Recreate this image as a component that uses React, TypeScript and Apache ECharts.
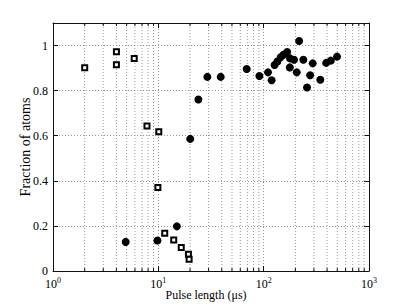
import React, { useEffect, useRef } from 'react';
import * as echarts from 'echarts';

// Open squares
const squareX = [2, 4, 4, 5.9, 7.8, 10.1, 9.9, 11.5, 14, 16.5, 19.3, 19.6];
const squareY = [0.902, 0.973, 0.915, 0.943, 0.643, 0.618, 0.37, 0.167, 0.138, 0.104, 0.074, 0.052];

// Filled circles
const circleX = [4.9, 9.8, 15, 20.1, 24, 29.2, 39.1, 69, 91, 110, 119, 127, 135, 145, 154, 167, 178, 177, 194, 206, 217, 238, 258, 276, 292, 345, 392, 434, 497];
const circleY = [0.129, 0.135, 0.198, 0.586, 0.761, 0.861, 0.861, 0.896, 0.865, 0.881, 0.846, 0.914, 0.929, 0.948, 0.959, 0.971, 0.943, 0.903, 0.937, 0.881, 1.02, 0.937, 0.814, 0.868, 0.921, 0.848, 0.923, 0.933, 0.951];

// Axis ranges and minor log ticks
const X_MIN = 1;
const X_MAX = 1000;
const Y_MIN = 0;
const Y_MAX = 1.1;
const Y_STEP = 0.2;
const minorX = [2, 3, 4, 5, 6, 7, 8, 9, 20, 30, 40, 50, 60, 70, 80, 90, 200, 300, 400, 500, 600, 700, 800, 900];

const FONT = 'Liberation Serif';
const GRID_COLOR = '#9a9a9a';
const AXIS_COLOR = '#111';

export default function App() {
  const ref = useRef<HTMLDivElement>(null);

  useEffect(() => {
    if (!ref.current) return;
    const chart = echarts.init(ref.current, undefined, { renderer: 'svg' });

    const dotted = { color: GRID_COLOR, width: 1, type: [1, 2] as number[] };

    const option: any = {
      animation: false,
      backgroundColor: '#fff',
      textStyle: { fontFamily: FONT },
      grid: { left: 53, right: 38, top: 23, bottom: 37, containLabel: false },
      xAxis: [
        {
          type: 'log',
          logBase: 10,
          min: X_MIN,
          max: X_MAX,
          position: 'bottom',
          name: 'Pulse length (μs)',
          nameLocation: 'middle',
          nameGap: 18,
          nameMoveOverlap: false,
          nameTextStyle: { fontFamily: FONT, fontSize: 12, color: '#000', padding: [0, 10, 0, 0] },
          axisLine: { show: true, onZero: false, lineStyle: { color: AXIS_COLOR, width: 1 } },
          axisTick: { show: true, inside: true, length: 5, lineStyle: { color: AXIS_COLOR } },
          splitLine: { show: true, lineStyle: dotted },
          axisLabel: {
            margin: 5,
            color: '#000',
            formatter: (v: number) => `{b|10}{s|${Math.round(Math.log10(v))}}`,
            rich: {
              b: { fontFamily: FONT, fontSize: 12, lineHeight: 16, color: '#000' },
              s: { fontFamily: FONT, fontSize: 8, lineHeight: 8, verticalAlign: 'top', color: '#000' },
            },
          },
        },
        {
          type: 'log',
          logBase: 10,
          min: X_MIN,
          max: X_MAX,
          position: 'top',
          axisLine: { show: true, onZero: false, lineStyle: { color: AXIS_COLOR, width: 1 } },
          axisTick: { show: true, inside: true, length: 5, lineStyle: { color: AXIS_COLOR } },
          axisLabel: { show: false },
          splitLine: { show: false },
        },
      ],
      yAxis: [
        {
          type: 'value',
          min: Y_MIN,
          max: Y_MAX,
          interval: Y_STEP,
          position: 'left',
          name: 'Fraction of atoms',
          nameLocation: 'middle',
          nameGap: 21,
          nameMoveOverlap: false,
          nameTextStyle: { fontFamily: FONT, fontSize: 14, color: '#000' },
          axisLine: { show: true, onZero: false, lineStyle: { color: AXIS_COLOR, width: 1 } },
          axisTick: { show: true, inside: true, length: 5, lineStyle: { color: AXIS_COLOR } },
          splitLine: { show: true, lineStyle: dotted },
          axisLabel: {
            showMaxLabel: false,
            margin: 5,
            fontFamily: FONT,
            fontSize: 12,
            color: '#000',
          },
        },
        {
          type: 'value',
          min: Y_MIN,
          max: Y_MAX,
          interval: Y_STEP,
          position: 'right',
          axisLine: { show: true, onZero: false, lineStyle: { color: AXIS_COLOR, width: 1 } },
          axisTick: { show: true, inside: true, length: 5, lineStyle: { color: AXIS_COLOR } },
          axisLabel: { show: false },
          splitLine: { show: false },
        },
      ],
      series: [
        {
          type: 'custom',
          xAxisIndex: 0,
          yAxisIndex: 0,
          silent: true,
          z: 1,
          clip: false,
          data: minorX.map((v) => [v, Y_MIN]),
          renderItem: (_params: any, api: any) => {
            const v = api.value(0);
            const b = api.coord([v, Y_MIN]);
            const t = api.coord([v, Y_MAX]);
            return {
              type: 'group',
              children: [
                {
                  type: 'line',
                  shape: { x1: b[0], y1: b[1], x2: t[0], y2: t[1] },
                  style: { stroke: GRID_COLOR, lineWidth: 1, lineDash: [1, 2] },
                },
                {
                  type: 'line',
                  shape: { x1: b[0], y1: b[1], x2: b[0], y2: b[1] - 3 },
                  style: { stroke: AXIS_COLOR, lineWidth: 1 },
                },
                {
                  type: 'line',
                  shape: { x1: t[0], y1: t[1], x2: t[0], y2: t[1] + 3 },
                  style: { stroke: AXIS_COLOR, lineWidth: 1 },
                },
              ],
            };
          },
        },
        {
          type: 'scatter',
          name: 'squares',
          xAxisIndex: 0,
          yAxisIndex: 0,
          z: 3,
          symbol: 'rect',
          symbolSize: 5,
          itemStyle: { color: '#fff', borderColor: '#000', borderWidth: 2, opacity: 1 },
          data: squareX.map((x, i) => [x, squareY[i]]),
        },
        {
          type: 'scatter',
          name: 'circles',
          xAxisIndex: 0,
          yAxisIndex: 0,
          z: 4,
          symbol: 'circle',
          symbolSize: 8,
          itemStyle: { color: '#000', opacity: 1 },
          data: circleX.map((x, i) => [x, circleY[i]]),
        },
      ],
    };

    chart.setOption(option);
    return () => chart.dispose();
  }, []);

  return (
    <div
      ref={ref}
      style={{ position: 'fixed', left: 0, top: 0, width: 407, height: 308, background: '#fff' }}
    />
  );
}
